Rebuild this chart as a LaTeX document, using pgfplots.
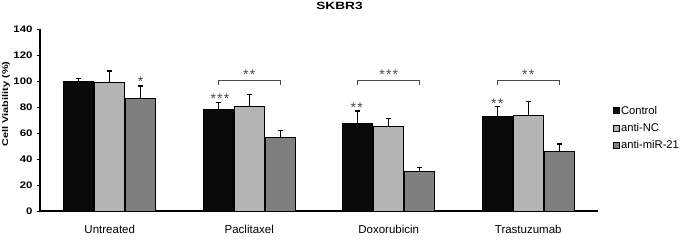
\documentclass[border=0pt]{standalone}
\usepackage{fontspec}
\setmainfont{Liberation Sans}
\usepackage{graphicx}
\usepackage{pgfplots}
\pgfplotsset{compat=1.18}
\definecolor{cblack}{HTML}{0A0A0A}
\definecolor{clight}{HTML}{B4B4B4}
\definecolor{cdark}{HTML}{7F7F7F}
\definecolor{cstar}{HTML}{4A4A4A}
\pgfplotsset{mylegend/.style={legend image code/.code={\draw[##1, line width=0.8pt] (0pt,-3pt) rectangle (6pt,3pt);}}}
\begin{document}
\begin{tikzpicture}
\useasboundingbox (0,0) rectangle (680pt,247pt);
\begin{axis}[
  at={(40pt,36pt)}, anchor=south west,
  scale only axis, width=558pt, height=182pt,
  xmin=-0.5, xmax=3.5, ymin=0, ymax=140,
  axis x line*=bottom, axis y line*=left,
  axis line style={line width=1.3pt, black},
  ybar=1pt, bar width=30pt,
  xtick={0,1,2,3},
  xticklabels={Untreated,Paclitaxel,Doxorubicin,Trastuzumab},
  x tick style={draw=none},
  xticklabel style={font=\fontsize{11.5}{13}\selectfont, yshift=-8pt},
  ytick={0,20,...,140},
  tick align=outside, major tick length=3pt,
  y tick style={line width=1pt, black},
  /pgf/number format/assume math mode=true,
  yticklabel={\scalebox{1.2}[1]{\bfseries\fontsize{9.5}{11}\selectfont\pgfmathprintnumber{\tick}}},
  yticklabel style={xshift=-1pt},
  clip=false,
  legend style={at={(1.027,0.456)}, anchor=west, draw=none, fill=none,
    font=\fontsize{11.2}{13}\selectfont, row sep=3.5pt, inner sep=0pt,
    nodes={inner xsep=1pt}},
  legend cell align=left,
]
\addplot[mylegend, fill=cblack, draw=black, line width=1pt,
  error bars/.cd, y dir=plus, y explicit,
  error bar style={line width=1.2pt, black},
  error mark options={rotate=90, mark size=2.5pt, line width=1.2pt, black}]
  coordinates {(0,100) +- (0,2) (1,77.7) +- (0,5.9) (2,67.4) +- (0,9.5) (3,73.0) +- (0,7.3)};
\addplot[mylegend, fill=clight, draw=black, line width=1pt,
  error bars/.cd, y dir=plus, y explicit,
  error bar style={line width=1.2pt, black},
  error mark options={rotate=90, mark size=2.5pt, line width=1.2pt, black}]
  coordinates {(0,98.5) +- (0,9.2) (1,80.3) +- (0,9.2) (2,64.9) +- (0,6.1) (3,73.6) +- (0,10.5)};
\addplot[mylegend, fill=cdark, draw=black, line width=1pt,
  error bars/.cd, y dir=plus, y explicit,
  error bar style={line width=1.2pt, black},
  error mark options={rotate=90, mark size=2.5pt, line width=1.2pt, black}]
  coordinates {(0,86.2) +- (0,10) (1,56.4) +- (0,5.4) (2,30.3) +- (0,3.3) (3,46.0) +- (0,5.5)};
\legend{Control,anti-NC,anti-miR-21}
% significance brackets
\draw[cstar, line width=0.9pt] (axis cs:0.778,96.9) |- (axis cs:1.222,100.8) -- (axis cs:1.222,96.9);
\draw[cstar, line width=0.9pt] (axis cs:1.778,96.9) |- (axis cs:2.222,100.8) -- (axis cs:2.222,96.9);
\draw[cstar, line width=0.9pt] (axis cs:2.778,96.9) |- (axis cs:3.222,100.8) -- (axis cs:3.222,96.9);
% stars
\tikzset{star/.style={anchor=base, inner sep=0pt, text=cstar, font=\fontsize{14}{16}\selectfont}}
\node[star] at (axis cs:0.222,95.5) {*};
\node[star] at (axis cs:0.79,82.6) {*\kern1.2pt*\kern1.2pt*};
\node[star] at (axis cs:1,101.3) {*\kern1.2pt*};
\node[star] at (axis cs:1.77,75.5) {*\kern1.2pt*};
\node[star] at (axis cs:2,101.0) {*\kern1.2pt*\kern1.2pt*};
\node[star] at (axis cs:2.778,78.8) {*\kern1.2pt*};
\node[star] at (axis cs:3,101.0) {*\kern1.2pt*};
\end{axis}
\node at (339.5pt,241pt) {\scalebox{1.3}[1]{\bfseries\fontsize{10.5}{12}\selectfont SKBR3}};
\node[rotate=90] at (6pt,143pt) {\scalebox{1.3}[1]{\bfseries\fontsize{8.4}{10}\selectfont Cell Viability (\%)}};
\end{tikzpicture}
\end{document}
